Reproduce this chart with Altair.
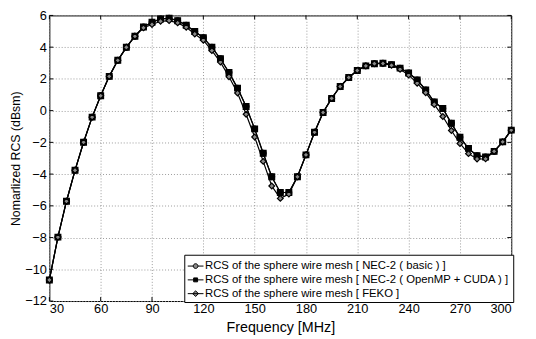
import altair as alt
import pandas as pd

freq = [30, 35, 40, 45, 50, 55, 60, 65, 70, 75, 80, 85, 90, 95, 100, 105, 110, 115, 120,
        125, 130, 135, 140, 145, 150, 155, 160, 165, 170, 175, 180, 185, 190, 195, 200,
        205, 210, 215, 220, 225, 230, 235, 240, 245, 250, 255, 260, 265, 270, 275, 280,
        285, 290, 295, 300]

nec_basic = [-10.67, -7.97, -5.71, -3.76, -1.99, -0.41, 0.94, 2.16, 3.17, 3.99, 4.69, 5.27,
             5.57, 5.78, 5.82, 5.67, 5.38, 4.99, 4.60, 3.99, 3.27, 2.40, 1.42, 0.26, -1.15,
             -2.69, -4.17, -5.16, -5.16, -4.17, -2.79, -1.36, -0.12, 0.77, 1.52, 2.09, 2.53,
             2.82, 2.96, 2.99, 2.90, 2.68, 2.37, 1.93, 1.31, 0.54, 0.14, -0.80, -1.68, -2.38,
             -2.84, -2.92, -2.57, -1.97, -1.23]

nec_cuda = [-10.67, -7.97, -5.71, -3.76, -1.99, -0.41, 0.94, 2.16, 3.17, 3.99, 4.69, 5.27,
            5.57, 5.78, 5.82, 5.67, 5.38, 4.99, 4.60, 3.99, 3.27, 2.40, 1.42, 0.26, -1.15,
            -2.69, -4.17, -5.16, -5.16, -4.17, -2.79, -1.36, -0.12, 0.77, 1.52, 2.09, 2.53,
            2.82, 2.96, 2.99, 2.90, 2.68, 2.37, 1.93, 1.31, 0.54, 0.14, -0.80, -1.68, -2.38,
            -2.84, -2.92, -2.57, -1.97, -1.23]

feko = [-10.67, -7.97, -5.71, -3.76, -1.99, -0.41, 0.94, 2.16, 3.17, 3.99, 4.69, 5.22,
        5.43, 5.63, 5.67, 5.53, 5.26, 4.83, 4.44, 3.78, 3.06, 2.14, 1.11, -0.23, -1.66,
        -3.20, -4.75, -5.53, -5.26, -4.17, -2.79, -1.36, -0.12, 0.77, 1.52, 2.09, 2.53,
        2.82, 2.96, 2.97, 2.85, 2.61, 2.24, 1.73, 1.13, 0.39, -0.37, -1.25, -2.07, -2.71,
        -3.05, -3.04, -2.57, -1.97, -1.23]

series_names = [
    "RCS of the sphere wire mesh [ NEC-2 ( basic ) ]",
    "RCS of the sphere wire mesh [ NEC-2 ( OpenMP + CUDA ) ]",
    "RCS of the sphere wire mesh [ FEKO ]",
]

x_ticks = [30, 60, 90, 120, 150, 180, 210, 240, 270, 300]
y_ticks = [-12, -10, -8, -6, -4, -2, 0, 2, 4, 6]

rows = []
for name, vals in zip(series_names, [nec_basic, nec_cuda, feko]):
    for f, v in zip(freq, vals):
        rows.append({"f": f, "rcs": v, "series": name})
df = pd.DataFrame(rows)
legend_df = pd.DataFrame({"series": series_names})
xt_df = pd.DataFrame({"f": x_ticks})
yt_df = pd.DataFrame({"rcs": y_ticks})

W, H = 469, 290
FONT = "Liberation Sans"

xscale = alt.Scale(domain=[30, 300], nice=False, zero=False)
yscale = alt.Scale(domain=[-12, 6], nice=False, zero=False)

xaxis = alt.Axis(values=x_ticks, title="Frequency [MHz]", grid=True, tickSize=0,
                 domain=False, labelPadding=2, titlePadding=5, titleFontSize=14.5)
yaxis = alt.Axis(values=y_ticks, title="Nomarlized RCS (dBsm)", grid=True, tickSize=0,
                 domain=False, labelPadding=3, titlePadding=2, titleFontSize=12.5)

X = alt.X("f:Q", scale=xscale, axis=xaxis)
Y = alt.Y("rcs:Q", scale=yscale, axis=yaxis)

fill_range = ["#8a8a8a", "black", "#8a8a8a"]

lines = alt.Chart(df).mark_line(color="black", strokeWidth=1.2).encode(
    x=X, y=Y, detail="series:N",
)

points = alt.Chart(df).mark_point(size=34, stroke="black", strokeWidth=1.2, opacity=1).encode(
    x=X, y=Y,
    shape=alt.Shape("series:N", scale=alt.Scale(domain=series_names,
                                                range=["circle", "square", "diamond"]),
                    legend=None),
    fill=alt.Fill("series:N", scale=alt.Scale(domain=series_names, range=fill_range),
                  legend=None),
)

leg_paths = [
    "M-1,0H-0.3M0.3,0H1M0.3,0A0.3,0.3 0 1,1 -0.3,0A0.3,0.3 0 1,1 0.3,0Z",
    "M-1,0H1M-0.25,-0.25H0.25V0.25H-0.25Z",
    "M-1,0H1M0,-0.36L0.36,0L0,0.36L-0.36,0Z",
]

leg = alt.Legend(title=None, orient="none", legendX=137, legendY=243,
                 symbolSize=256, symbolStrokeWidth=1,
                 labelFont=FONT, labelFontSize=11.5, labelColor="black",
                 labelLimit=400, labelOffset=1,
                 strokeColor="black", fillColor="white",
                 padding=3, rowPadding=-2, cornerRadius=0)

legend_layer = alt.Chart(legend_df).mark_point(strokeWidth=1, opacity=1).encode(
    x=alt.value(-600),
    y=alt.value(-600),
    shape=alt.Shape("series:N", scale=alt.Scale(domain=series_names, range=leg_paths),
                    legend=leg),
    fill=alt.Fill("series:N", scale=alt.Scale(domain=series_names, range=fill_range),
                  legend=leg),
    stroke=alt.Stroke("series:N", scale=alt.Scale(domain=series_names,
                                                  range=["black", "black", "black"]),
                      legend=leg),
)

tick_bottom = alt.Chart(xt_df).mark_rule(color="black", strokeWidth=1).encode(
    x=X, y=alt.value(H), y2=alt.value(H - 4))
tick_top = alt.Chart(xt_df).mark_rule(color="black", strokeWidth=1).encode(
    x=X, y=alt.value(0), y2=alt.value(4))
tick_left = alt.Chart(yt_df).mark_rule(color="black", strokeWidth=1).encode(
    y=Y, x=alt.value(0), x2=alt.value(4))
tick_right = alt.Chart(yt_df).mark_rule(color="black", strokeWidth=1).encode(
    y=Y, x=alt.value(W), x2=alt.value(W - 4))

chart = alt.layer(
    lines, points, tick_bottom, tick_top, tick_left, tick_right, legend_layer
).resolve_scale(shape="independent", fill="independent", stroke="independent").properties(
    width=W, height=H,
    autosize=alt.AutoSizeParams(type="none"),
    padding={"left": 42, "top": 5, "right": 17, "bottom": 36},
    background="white",
).configure_view(
    stroke="black", strokeWidth=1
).configure_axis(
    labelFont=FONT, labelFontSize=13, labelColor="black",
    titleFont=FONT, titleFontWeight="normal", titleColor="black",
    gridColor="#9a9a9a", gridDash=[1, 2], gridWidth=1,
)

chart.save("out.html", embed_options={"renderer": "svg", "actions": False})
